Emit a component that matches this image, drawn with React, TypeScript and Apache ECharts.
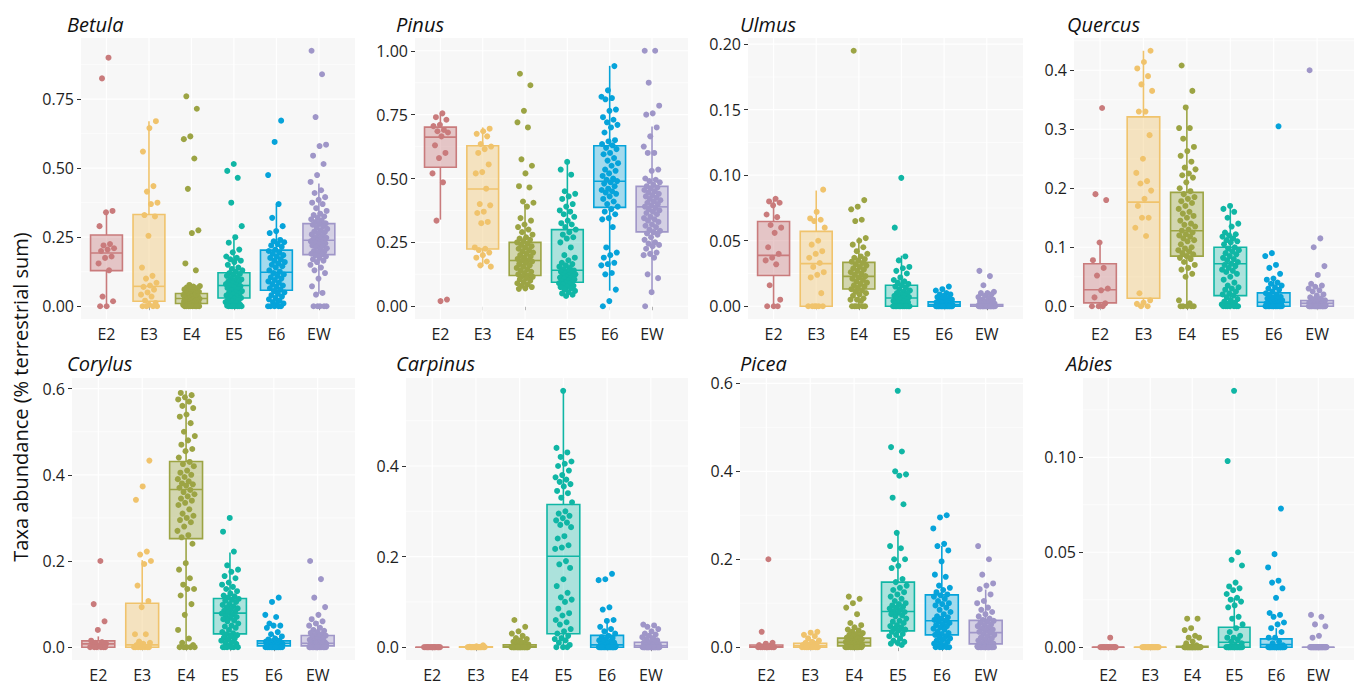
import React, { useEffect, useRef } from 'react';
import * as echarts from 'echarts';

const FONT = '"Open Sans", "Noto Sans", sans-serif';
const CATEGORIES = ['E2', 'E3', 'E4', 'E5', 'E6', 'EW'];
const COLORS = ['#C97B7C', '#F0C36C', '#9CA444', '#10B6A5', '#06A3DA', '#9F96C8'];
const FILLS = ['rgba(201,123,124,0.4)', 'rgba(240,195,108,0.4)', 'rgba(156,164,68,0.4)', 'rgba(16,182,165,0.32)', 'rgba(6,163,218,0.35)', 'rgba(159,150,200,0.4)'];
const Y_TITLE = 'Taxa abundance (% terrestrial sum)';

// ---- Betula ----
const betulaTicks = [0, 0.25, 0.5, 0.75];
const betulaBox = [
  [0, 0.129, 0.193, 0.258, 0.347],
  [0, 0.018, 0.072, 0.332, 0.67],
  [0, 0.01, 0.028, 0.046, 0.078],
  [0, 0.03, 0.075, 0.121, 0.25],
  [0, 0.058, 0.123, 0.203, 0.371],
  [0.045, 0.187, 0.239, 0.299, 0.444],
];
const betulaPts = [
  [0.9, 0.825, 0.345, 0.34, 0.29, 0.225, 0.22, 0.21, 0.205, 0.2, 0.18, 0.175, 0.155, 0.13, 0.035, 0.018, 0, 0],
  [0.67, 0.645, 0.56, 0.435, 0.415, 0.375, 0.37, 0.33, 0.325, 0.255, 0.14, 0.11, 0.1, 0.085, 0.075, 0.07, 0.06, 0.05, 0.042, 0.035, 0.02, 0.012, 0.006, 0, 0, 0, 0],
  [0.76, 0.715, 0.615, 0.605, 0.535, 0.425, 0.275, 0.265, 0.155, 0.13, 0.077, 0.073, 0.071, 0.068, 0.066, 0.064, 0.061, 0.058, 0.055, 0.052, 0.05, 0.048, 0.046, 0.044, 0.041, 0.039, 0.037, 0.035, 0.034, 0.032, 0.03, 0.028, 0.027, 0.025, 0.023, 0.021, 0.02, 0.018, 0.016, 0.014, 0.013, 0.011, 0.01, 0.008, 0.007, 0.005, 0.004, 0.003, 0.002, 0.001, 0, 0, 0, 0, 0, 0, 0, 0],
  [0.515, 0.49, 0.465, 0.375, 0.29, 0.25, 0.23, 0.205, 0.195, 0.18, 0.175, 0.17, 0.165, 0.16, 0.15, 0.14, 0.135, 0.13, 0.125, 0.12, 0.117, 0.113, 0.11, 0.105, 0.1, 0.097, 0.094, 0.09, 0.087, 0.084, 0.08, 0.077, 0.075, 0.072, 0.069, 0.066, 0.062, 0.058, 0.055, 0.051, 0.048, 0.045, 0.042, 0.039, 0.036, 0.033, 0.03, 0.027, 0.024, 0.021, 0.018, 0.015, 0.012, 0.009, 0.006, 0.004, 0.002, 0, 0, 0, 0, 0, 0, 0],
  [0.672, 0.595, 0.475, 0.37, 0.32, 0.29, 0.272, 0.265, 0.24, 0.235, 0.232, 0.225, 0.22, 0.215, 0.205, 0.2, 0.195, 0.19, 0.185, 0.18, 0.175, 0.17, 0.165, 0.16, 0.155, 0.15, 0.145, 0.14, 0.13, 0.125, 0.12, 0.115, 0.11, 0.105, 0.1, 0.095, 0.09, 0.085, 0.08, 0.075, 0.07, 0.065, 0.06, 0.055, 0.05, 0.045, 0.04, 0.035, 0.03, 0.025, 0.02, 0.015, 0.01, 0.005, 0, 0, 0, 0, 0],
  [0.925, 0.84, 0.685, 0.585, 0.58, 0.545, 0.515, 0.475, 0.45, 0.42, 0.41, 0.395, 0.385, 0.375, 0.37, 0.355, 0.345, 0.335, 0.33, 0.325, 0.32, 0.315, 0.31, 0.305, 0.3, 0.298, 0.295, 0.29, 0.285, 0.28, 0.275, 0.27, 0.268, 0.265, 0.26, 0.255, 0.25, 0.248, 0.245, 0.242, 0.24, 0.238, 0.235, 0.232, 0.23, 0.228, 0.225, 0.22, 0.218, 0.215, 0.21, 0.205, 0.2, 0.198, 0.195, 0.19, 0.188, 0.185, 0.18, 0.175, 0.17, 0.165, 0.16, 0.15, 0.14, 0.13, 0.12, 0.1, 0.072, 0.048, 0.042, 0, 0, 0, 0, 0],
];

// ---- Pinus ----
const pinusTicks = [0, 0.25, 0.5, 0.75, 1.0];
const pinusBox = [
  [0.339, 0.544, 0.662, 0.701, 0.756],
  [0.156, 0.224, 0.459, 0.628, 0.7],
  [0.068, 0.12, 0.179, 0.25, 0.4],
  [0.04, 0.094, 0.141, 0.3, 0.561],
  [0.061, 0.387, 0.489, 0.628, 0.941],
  [0.055, 0.291, 0.389, 0.469, 0.704],
];
const pinusPts = [
  [0.755, 0.74, 0.73, 0.71, 0.705, 0.69, 0.685, 0.68, 0.665, 0.63, 0.6, 0.58, 0.52, 0.485, 0.335, 0.026, 0.02],
  [0.695, 0.685, 0.675, 0.665, 0.635, 0.625, 0.615, 0.6, 0.555, 0.525, 0.52, 0.46, 0.4, 0.395, 0.37, 0.365, 0.33, 0.325, 0.23, 0.225, 0.22, 0.21, 0.2, 0.19, 0.175, 0.16, 0.155],
  [0.91, 0.865, 0.765, 0.72, 0.7, 0.575, 0.55, 0.52, 0.47, 0.465, 0.41, 0.405, 0.39, 0.345, 0.335, 0.32, 0.31, 0.3, 0.29, 0.28, 0.27, 0.265, 0.26, 0.255, 0.25, 0.245, 0.24, 0.235, 0.23, 0.225, 0.22, 0.215, 0.21, 0.205, 0.2, 0.195, 0.19, 0.185, 0.18, 0.178, 0.175, 0.17, 0.165, 0.16, 0.155, 0.15, 0.145, 0.14, 0.135, 0.13, 0.125, 0.12, 0.118, 0.115, 0.11, 0.105, 0.1, 0.095, 0.09, 0.085, 0.08, 0.075, 0.07, 0.068],
  [0.565, 0.535, 0.515, 0.45, 0.44, 0.43, 0.42, 0.4, 0.39, 0.375, 0.37, 0.36, 0.35, 0.335, 0.325, 0.32, 0.31, 0.3, 0.29, 0.28, 0.27, 0.265, 0.25, 0.23, 0.2, 0.19, 0.18, 0.17, 0.165, 0.16, 0.155, 0.15, 0.145, 0.14, 0.138, 0.135, 0.13, 0.128, 0.125, 0.122, 0.12, 0.118, 0.115, 0.112, 0.11, 0.108, 0.105, 0.1, 0.098, 0.095, 0.092, 0.09, 0.088, 0.085, 0.08, 0.078, 0.075, 0.07, 0.065, 0.06, 0.055, 0.05, 0.045, 0.04],
  [0.94, 0.845, 0.82, 0.815, 0.81, 0.77, 0.765, 0.74, 0.73, 0.72, 0.71, 0.7, 0.68, 0.65, 0.645, 0.635, 0.63, 0.62, 0.615, 0.6, 0.595, 0.58, 0.57, 0.56, 0.55, 0.535, 0.53, 0.52, 0.51, 0.5, 0.495, 0.49, 0.485, 0.48, 0.47, 0.46, 0.455, 0.45, 0.445, 0.44, 0.43, 0.42, 0.41, 0.4, 0.39, 0.38, 0.37, 0.36, 0.345, 0.34, 0.31, 0.23, 0.21, 0.2, 0.19, 0.17, 0.165, 0.16, 0.13, 0.125, 0.065, 0.02, 0],
  [1.0, 1.0, 0.875, 0.785, 0.755, 0.75, 0.7, 0.665, 0.625, 0.6, 0.6, 0.535, 0.53, 0.5, 0.495, 0.49, 0.485, 0.475, 0.47, 0.465, 0.46, 0.455, 0.45, 0.445, 0.44, 0.435, 0.43, 0.425, 0.42, 0.415, 0.41, 0.405, 0.4, 0.395, 0.39, 0.385, 0.38, 0.375, 0.37, 0.365, 0.36, 0.35, 0.345, 0.34, 0.335, 0.33, 0.32, 0.315, 0.31, 0.3, 0.295, 0.29, 0.285, 0.28, 0.27, 0.26, 0.25, 0.245, 0.24, 0.235, 0.225, 0.21, 0.205, 0.2, 0.19, 0.125, 0.11, 0.055, 0],
];

// ---- Ulmus ----
const ulmusTicks = [0, 0.05, 0.1, 0.15, 0.2];
const ulmusBox = [
  [0, 0.0234, 0.0388, 0.0647, 0.0817],
  [0, 0, 0.0325, 0.0571, 0.0883],
  [0, 0.0132, 0.0228, 0.0335, 0.0525],
  [0, 0, 0.0063, 0.016, 0.0386],
  [0, 0, 0.001, 0.0033, 0.008],
  [0, 0, 0, 0.0013, 0.003],
];
const ulmusPts = [
  [0.082, 0.08, 0.079, 0.077, 0.07, 0.068, 0.062, 0.06, 0.056, 0.045, 0.04, 0.037, 0.035, 0.032, 0.016, 0.005, 0, 0, 0],
  [0.089, 0.072, 0.067, 0.066, 0.065, 0.06, 0.05, 0.047, 0.042, 0.04, 0.037, 0.033, 0.03, 0.026, 0.024, 0.022, 0.01, 0, 0, 0, 0, 0, 0],
  [0.195, 0.081, 0.076, 0.074, 0.066, 0.065, 0.052, 0.05, 0.047, 0.045, 0.042, 0.04, 0.038, 0.037, 0.036, 0.035, 0.034, 0.033, 0.032, 0.031, 0.03, 0.029, 0.028, 0.027, 0.026, 0.025, 0.024, 0.023, 0.022, 0.021, 0.02, 0.019, 0.018, 0.017, 0.016, 0.015, 0.014, 0.013, 0.012, 0.011, 0.01, 0.009, 0.008, 0.006, 0.005, 0.005, 0.004, 0, 0, 0, 0, 0, 0],
  [0.098, 0.06, 0.038, 0.035, 0.03, 0.029, 0.027, 0.025, 0.022, 0.02, 0.019, 0.018, 0.017, 0.016, 0.015, 0.014, 0.013, 0.012, 0.011, 0.01, 0.01, 0.009, 0.008, 0.008, 0.007, 0.007, 0.006, 0.006, 0.005, 0.005, 0.004, 0.004, 0.003, 0.003, 0.002, 0.002, 0.001, 0.001, 0, 0, 0, 0, 0, 0, 0, 0, 0, 0, 0, 0, 0, 0],
  [0.015, 0.013, 0.012, 0.01, 0.009, 0.009, 0.008, 0.007, 0.006, 0.005, 0.005, 0.004, 0.004, 0.004, 0.003, 0.003, 0.003, 0.003, 0.002, 0.002, 0.002, 0.002, 0.002, 0.001, 0.001, 0.001, 0.001, 0.001, 0.001, 0, 0, 0, 0, 0, 0, 0, 0, 0, 0, 0, 0, 0, 0, 0, 0, 0, 0, 0, 0, 0],
  [0.027, 0.023, 0.016, 0.011, 0.01, 0.01, 0.009, 0.008, 0.007, 0.006, 0.005, 0.005, 0.004, 0.004, 0.003, 0.003, 0.002, 0.002, 0.002, 0.001, 0.001, 0.001, 0.001, 0, 0, 0, 0, 0, 0, 0, 0, 0, 0, 0, 0, 0, 0, 0, 0, 0, 0, 0, 0, 0, 0, 0, 0, 0, 0],
];

// ---- Quercus ----
const quercusTicks = [0, 0.1, 0.2, 0.3, 0.4];
const quercusBox = [
  [0, 0.0057, 0.028, 0.072, 0.107],
  [0, 0.0136, 0.1765, 0.321, 0.433],
  [0, 0.085, 0.128, 0.193, 0.337],
  [0, 0.018, 0.072, 0.1, 0.173],
  [0, 0, 0.0068, 0.0226, 0.046],
  [0, 0, 0.005, 0.0096, 0.021],
];
const quercusPts = [
  [0.336, 0.19, 0.18, 0.108, 0.078, 0.065, 0.052, 0.03, 0.027, 0.015, 0.005, 0, 0, 0],
  [0.433, 0.414, 0.403, 0.39, 0.376, 0.365, 0.33, 0.33, 0.29, 0.25, 0.226, 0.212, 0.208, 0.196, 0.182, 0.17, 0.15, 0.15, 0.133, 0.119, 0.022, 0.01, 0.006, 0.004, 0, 0],
  [0.408, 0.365, 0.337, 0.302, 0.302, 0.284, 0.27, 0.263, 0.255, 0.245, 0.235, 0.232, 0.225, 0.222, 0.218, 0.21, 0.2, 0.195, 0.19, 0.185, 0.182, 0.178, 0.175, 0.17, 0.165, 0.16, 0.157, 0.153, 0.15, 0.145, 0.14, 0.138, 0.135, 0.13, 0.128, 0.125, 0.122, 0.12, 0.118, 0.115, 0.112, 0.11, 0.105, 0.1, 0.098, 0.095, 0.093, 0.09, 0.088, 0.085, 0.082, 0.08, 0.075, 0.07, 0.065, 0.062, 0.055, 0.05, 0.01, 0.005, 0, 0, 0, 0, 0],
  [0.17, 0.165, 0.16, 0.15, 0.14, 0.135, 0.125, 0.122, 0.12, 0.118, 0.115, 0.112, 0.11, 0.108, 0.105, 0.1, 0.098, 0.095, 0.093, 0.09, 0.088, 0.085, 0.082, 0.08, 0.078, 0.075, 0.072, 0.07, 0.068, 0.065, 0.062, 0.06, 0.058, 0.055, 0.05, 0.045, 0.04, 0.035, 0.032, 0.03, 0.028, 0.025, 0.022, 0.02, 0.018, 0.015, 0.012, 0.01, 0.008, 0.006, 0.005, 0.003, 0.002, 0, 0, 0, 0, 0, 0, 0],
  [0.305, 0.09, 0.085, 0.07, 0.065, 0.055, 0.047, 0.045, 0.04, 0.038, 0.035, 0.032, 0.03, 0.028, 0.025, 0.022, 0.02, 0.018, 0.016, 0.015, 0.013, 0.012, 0.01, 0.01, 0.008, 0.008, 0.007, 0.006, 0.005, 0.005, 0.004, 0.003, 0.003, 0.002, 0.002, 0.001, 0, 0, 0, 0, 0, 0, 0, 0, 0, 0, 0, 0, 0, 0],
  [0.4, 0.115, 0.1, 0.068, 0.053, 0.038, 0.035, 0.033, 0.03, 0.027, 0.025, 0.02, 0.018, 0.015, 0.013, 0.012, 0.01, 0.01, 0.009, 0.008, 0.007, 0.006, 0.005, 0.005, 0.005, 0.004, 0.003, 0.003, 0.002, 0.002, 0.001, 0.001, 0, 0, 0, 0, 0, 0, 0, 0, 0, 0, 0, 0, 0, 0, 0, 0, 0, 0, 0, 0, 0, 0, 0, 0],
];

// ---- Corylus ----
const corylusTicks = [0, 0.2, 0.4, 0.6];
const corylusBox = [
  [0, 0, 0.0077, 0.0146, 0.025],
  [0, 0, 0.0054, 0.102, 0.202],
  [0, 0.252, 0.366, 0.431, 0.595],
  [0, 0.031, 0.079, 0.113, 0.22],
  [0, 0.003, 0.009, 0.0146, 0.028],
  [0, 0.003, 0.009, 0.027, 0.06],
];
const corylusPts = [
  [0.2, 0.1, 0.06, 0.04, 0.015, 0.012, 0.01, 0.008, 0.005, 0.003, 0, 0, 0, 0, 0, 0],
  [0.433, 0.373, 0.342, 0.222, 0.215, 0.2, 0.193, 0.143, 0.107, 0.093, 0.03, 0.03, 0.013, 0.01, 0.008, 0.005, 0, 0, 0, 0, 0, 0, 0, 0],
  [0.59, 0.585, 0.58, 0.575, 0.57, 0.56, 0.555, 0.54, 0.535, 0.52, 0.5, 0.49, 0.48, 0.47, 0.46, 0.455, 0.44, 0.43, 0.425, 0.42, 0.41, 0.405, 0.4, 0.395, 0.39, 0.385, 0.38, 0.378, 0.375, 0.37, 0.365, 0.36, 0.355, 0.35, 0.345, 0.34, 0.335, 0.33, 0.32, 0.31, 0.305, 0.3, 0.295, 0.29, 0.28, 0.27, 0.26, 0.255, 0.24, 0.195, 0.18, 0.16, 0.145, 0.135, 0.135, 0.12, 0.1, 0.075, 0.04, 0.02, 0.01, 0.005, 0, 0, 0, 0, 0],
  [0.3, 0.268, 0.222, 0.19, 0.18, 0.175, 0.165, 0.16, 0.15, 0.145, 0.14, 0.135, 0.13, 0.125, 0.12, 0.118, 0.115, 0.112, 0.11, 0.108, 0.105, 0.1, 0.098, 0.095, 0.092, 0.09, 0.088, 0.085, 0.082, 0.08, 0.078, 0.075, 0.072, 0.07, 0.068, 0.065, 0.062, 0.06, 0.055, 0.05, 0.048, 0.045, 0.04, 0.035, 0.032, 0.03, 0.028, 0.025, 0.022, 0.02, 0.018, 0.015, 0.012, 0.01, 0.008, 0.005, 0, 0, 0, 0, 0, 0],
  [0.115, 0.105, 0.075, 0.07, 0.055, 0.05, 0.05, 0.045, 0.035, 0.03, 0.025, 0.02, 0.018, 0.015, 0.014, 0.013, 0.012, 0.012, 0.011, 0.01, 0.01, 0.009, 0.009, 0.008, 0.008, 0.007, 0.006, 0.005, 0.005, 0.004, 0.003, 0.002, 0.001, 0, 0, 0, 0, 0, 0, 0, 0, 0, 0, 0, 0, 0],
  [0.2, 0.158, 0.115, 0.093, 0.075, 0.065, 0.06, 0.055, 0.05, 0.045, 0.04, 0.038, 0.035, 0.033, 0.03, 0.028, 0.027, 0.025, 0.022, 0.02, 0.018, 0.017, 0.015, 0.013, 0.012, 0.011, 0.01, 0.01, 0.009, 0.008, 0.008, 0.007, 0.006, 0.005, 0.005, 0.004, 0.003, 0.003, 0.002, 0.002, 0.001, 0, 0, 0, 0, 0, 0, 0, 0, 0, 0, 0, 0, 0, 0, 0],
];

// ---- Carpinus ----
const carpinusTicks = [0, 0.2, 0.4];
const carpinusBox = [
  [0, 0, 0, 0, 0],
  [0, 0, 0, 0.001, 0.002],
  [0, 0, 0.001, 0.005, 0.012],
  [0, 0.0295, 0.2007, 0.315, 0.566],
  [0, 0, 0.005, 0.026, 0.062],
  [0, 0, 0.003, 0.011, 0.028],
];
const carpinusPts = [
  [0, 0, 0, 0, 0, 0, 0, 0, 0, 0, 0, 0, 0, 0, 0, 0, 0],
  [0.004, 0.002, 0.001, 0, 0, 0, 0, 0, 0, 0, 0, 0, 0, 0, 0, 0, 0, 0, 0, 0, 0],
  [0.06, 0.045, 0.035, 0.03, 0.025, 0.02, 0.018, 0.015, 0.012, 0.01, 0.008, 0.006, 0.005, 0.004, 0.003, 0.002, 0.002, 0.001, 0.001, 0, 0, 0, 0, 0, 0, 0, 0, 0, 0, 0, 0, 0, 0, 0, 0, 0, 0, 0, 0, 0, 0, 0, 0, 0, 0],
  [0.566, 0.44, 0.43, 0.42, 0.41, 0.405, 0.4, 0.39, 0.38, 0.375, 0.37, 0.365, 0.36, 0.355, 0.345, 0.34, 0.33, 0.32, 0.3, 0.295, 0.29, 0.285, 0.28, 0.275, 0.27, 0.265, 0.245, 0.24, 0.225, 0.22, 0.217, 0.19, 0.183, 0.175, 0.15, 0.135, 0.12, 0.11, 0.105, 0.1, 0.085, 0.075, 0.07, 0.06, 0.055, 0.05, 0.04, 0.035, 0.03, 0.025, 0.02, 0.018, 0.015, 0.01, 0.005, 0, 0, 0],
  [0.162, 0.15, 0.148, 0.088, 0.083, 0.06, 0.058, 0.045, 0.04, 0.035, 0.03, 0.025, 0.022, 0.02, 0.018, 0.015, 0.012, 0.01, 0.01, 0.008, 0.006, 0.005, 0.004, 0.003, 0.002, 0.001, 0, 0, 0, 0, 0, 0, 0, 0, 0, 0, 0, 0, 0, 0, 0, 0, 0, 0, 0, 0, 0, 0],
  [0.05, 0.048, 0.045, 0.04, 0.035, 0.03, 0.028, 0.025, 0.022, 0.02, 0.018, 0.015, 0.012, 0.01, 0.01, 0.008, 0.006, 0.005, 0.004, 0.003, 0.002, 0.001, 0, 0, 0, 0, 0, 0, 0, 0, 0, 0, 0, 0, 0, 0, 0, 0, 0, 0, 0, 0, 0, 0, 0, 0, 0, 0, 0, 0, 0],
];

// ---- Picea ----
const piceaTicks = [0, 0.2, 0.4, 0.6];
const piceaBox = [
  [0, 0, 0.001, 0.005, 0.012],
  [0, 0, 0.003, 0.009, 0.022],
  [0, 0.003, 0.011, 0.0205, 0.045],
  [0.002, 0.037, 0.081, 0.148, 0.259],
  [0, 0.028, 0.06, 0.119, 0.23],
  [0, 0.0076, 0.033, 0.061, 0.131],
];
const piceaPts = [
  [0.2, 0.035, 0.01, 0.008, 0.005, 0.003, 0.002, 0, 0, 0, 0, 0, 0, 0, 0, 0, 0],
  [0.035, 0.033, 0.028, 0.025, 0.02, 0.015, 0.012, 0.01, 0.008, 0.006, 0.005, 0.003, 0, 0, 0, 0, 0, 0, 0, 0, 0, 0],
  [0.115, 0.11, 0.1, 0.09, 0.075, 0.055, 0.05, 0.045, 0.04, 0.038, 0.035, 0.032, 0.03, 0.028, 0.026, 0.024, 0.022, 0.02, 0.019, 0.018, 0.016, 0.015, 0.014, 0.013, 0.012, 0.011, 0.01, 0.009, 0.008, 0.007, 0.006, 0.005, 0.004, 0.003, 0.002, 0.001, 0, 0, 0, 0, 0, 0, 0, 0, 0, 0, 0],
  [0.583, 0.455, 0.445, 0.4, 0.393, 0.39, 0.34, 0.325, 0.26, 0.23, 0.225, 0.2, 0.2, 0.185, 0.18, 0.155, 0.148, 0.14, 0.135, 0.13, 0.125, 0.12, 0.115, 0.11, 0.105, 0.1, 0.098, 0.095, 0.092, 0.09, 0.088, 0.085, 0.082, 0.08, 0.078, 0.075, 0.072, 0.07, 0.065, 0.06, 0.058, 0.055, 0.05, 0.048, 0.045, 0.042, 0.04, 0.038, 0.035, 0.03, 0.028, 0.025, 0.02, 0.015, 0.012, 0.01, 0.008, 0.005],
  [0.3, 0.295, 0.27, 0.235, 0.23, 0.22, 0.195, 0.165, 0.16, 0.14, 0.135, 0.13, 0.125, 0.12, 0.118, 0.115, 0.11, 0.105, 0.1, 0.098, 0.095, 0.09, 0.085, 0.08, 0.075, 0.07, 0.068, 0.065, 0.062, 0.06, 0.058, 0.055, 0.052, 0.05, 0.048, 0.045, 0.042, 0.04, 0.035, 0.032, 0.03, 0.028, 0.025, 0.022, 0.02, 0.018, 0.015, 0.012, 0.01, 0.008, 0.005, 0.003, 0, 0, 0, 0, 0],
  [0.23, 0.2, 0.165, 0.145, 0.14, 0.132, 0.12, 0.105, 0.1, 0.09, 0.085, 0.08, 0.075, 0.07, 0.065, 0.062, 0.06, 0.058, 0.055, 0.052, 0.05, 0.048, 0.045, 0.042, 0.04, 0.038, 0.035, 0.033, 0.03, 0.028, 0.025, 0.022, 0.02, 0.018, 0.015, 0.012, 0.01, 0.008, 0.007, 0.005, 0.004, 0.003, 0.002, 0, 0, 0, 0, 0, 0, 0, 0, 0, 0, 0, 0, 0, 0],
];

// ---- Abies ----
const abiesTicks = [0, 0.05, 0.1];
const abiesBox = [
  [0, 0, 0, 0, 0],
  [0, 0, 0, 0, 0],
  [0, 0, 0, 0.0005, 0.001],
  [0, 0, 0.0026, 0.0105, 0.026],
  [0, 0, 0.0014, 0.0044, 0.01],
  [0, 0, 0, 0, 0],
];
const abiesPts = [
  [0.005, 0, 0, 0, 0, 0, 0, 0, 0, 0, 0, 0, 0, 0, 0, 0, 0],
  [0, 0, 0, 0, 0, 0, 0, 0, 0, 0, 0, 0, 0, 0, 0, 0, 0, 0, 0, 0],
  [0.015, 0.015, 0.01, 0.009, 0.006, 0.005, 0.005, 0.003, 0.002, 0.001, 0, 0, 0, 0, 0, 0, 0, 0, 0, 0, 0, 0, 0, 0, 0, 0, 0, 0, 0, 0, 0, 0, 0, 0, 0, 0, 0, 0, 0, 0],
  [0.135, 0.098, 0.05, 0.046, 0.043, 0.034, 0.032, 0.031, 0.03, 0.028, 0.026, 0.025, 0.024, 0.022, 0.021, 0.016, 0.015, 0.012, 0.01, 0.008, 0.006, 0.005, 0.005, 0.004, 0.003, 0.002, 0.001, 0, 0, 0, 0, 0, 0, 0, 0, 0, 0, 0, 0, 0, 0, 0, 0, 0, 0, 0, 0, 0, 0],
  [0.073, 0.049, 0.042, 0.035, 0.034, 0.031, 0.026, 0.018, 0.017, 0.016, 0.013, 0.012, 0.01, 0.008, 0.005, 0.005, 0.003, 0.002, 0.001, 0, 0, 0, 0, 0, 0, 0, 0, 0, 0, 0, 0, 0, 0, 0, 0, 0, 0, 0, 0, 0, 0, 0, 0],
  [0.017, 0.016, 0.012, 0.011, 0.006, 0.005, 0, 0, 0, 0, 0, 0, 0, 0, 0, 0, 0, 0, 0, 0, 0, 0, 0, 0, 0, 0, 0, 0, 0, 0, 0, 0, 0, 0, 0, 0, 0, 0, 0, 0],
];

const PANELS = [
  { name: 'Betula', ticks: betulaTicks, dec: 2, box: betulaBox, pts: betulaPts },
  { name: 'Pinus', ticks: pinusTicks, dec: 2, box: pinusBox, pts: pinusPts },
  { name: 'Ulmus', ticks: ulmusTicks, dec: 2, box: ulmusBox, pts: ulmusPts },
  { name: 'Quercus', ticks: quercusTicks, dec: 1, box: quercusBox, pts: quercusPts },
  { name: 'Corylus', ticks: corylusTicks, dec: 1, box: corylusBox, pts: corylusPts },
  { name: 'Carpinus', ticks: carpinusTicks, dec: 1, box: carpinusBox, pts: carpinusPts },
  { name: 'Picea', ticks: piceaTicks, dec: 1, box: piceaBox, pts: piceaPts },
  { name: 'Abies', ticks: abiesTicks, dec: 2, box: abiesBox, pts: abiesPts },
];

// layout (pixels)
const LAYOUT = [
  { left: 81, top: 38, width: 274, height: 281, tx: 67, ty: 24 },
  { left: 415, top: 38, width: 273, height: 281, tx: 396, ty: 24 },
  { left: 748, top: 38, width: 275, height: 281, tx: 740, ty: 24 },
  { left: 1074, top: 38, width: 280, height: 281, tx: 1067, ty: 24 },
  { left: 72, top: 378, width: 283, height: 282, tx: 67, ty: 363 },
  { left: 406, top: 378, width: 282, height: 282, tx: 396, ty: 363 },
  { left: 740, top: 378, width: 283, height: 282, tx: 740, ty: 363 },
  { left: 1083, top: 378, width: 271, height: 282, tx: 1066, ty: 363 },
];

const X_MIN = 0.4;
const X_MAX = 6.85;
const BOX_W = 0.75;
const JITTER = 0.2;

function jitterOffset(i: number, g: number): number {
  const f = ((i + 1) * 0.6180339887 + g * 0.29) % 1;
  return (f - 0.5) * 2 * JITTER;
}

function buildOption(): any {
  const option: any = {
    animation: false,
    textStyle: { fontFamily: FONT },
    grid: [],
    xAxis: [],
    yAxis: [],
    series: [],
    graphic: [],
  };
  const catVals = CATEGORIES.map((_, i) => i + 1);

  PANELS.forEach((p, k) => {
    const L = LAYOUT[k];
    const all: number[] = [];
    p.pts.forEach((arr) => arr.forEach((v) => all.push(v)));
    p.box.forEach((arr) => arr.forEach((v) => all.push(v)));
    const lo = Math.min(...all);
    const hi = Math.max(...all);
    const r = hi - lo || 1;
    const ymin = lo - 0.05 * r;
    const ymax = hi + 0.05 * r;
    const step = p.ticks[1] - p.ticks[0];
    const minors: number[] = [p.ticks[0] - step / 2].concat(p.ticks.map((t) => t + step / 2)).filter((v) => v > ymin && v < ymax);

    option.grid.push({
      left: L.left, top: L.top, width: L.width, height: L.height,
      show: true, backgroundColor: '#F7F7F7', borderWidth: 0,
    });
    option.xAxis.push({
      type: 'value', gridIndex: k, min: X_MIN, max: X_MAX,
      axisLine: { show: false },
      splitLine: { show: false },
      axisTick: { show: true, customValues: catVals, length: 4, lineStyle: { color: '#333', width: 1 } },
      axisLabel: {
        show: true, customValues: catVals, margin: 7, fontSize: 16, color: '#1E1E1E', fontFamily: FONT,
        formatter: (v: number) => CATEGORIES[Math.round(v) - 1] || '',
      },
    });
    option.yAxis.push({
      type: 'value', gridIndex: k, min: ymin, max: ymax,
      axisLine: { show: false },
      splitLine: { show: false },
      axisTick: { show: true, customValues: p.ticks, length: 4, lineStyle: { color: '#333', width: 1 } },
      axisLabel: {
        show: true, customValues: p.ticks, margin: 7, fontSize: 16, color: '#1E1E1E', fontFamily: FONT,
        formatter: (v: number) => v.toFixed(p.dec),
      },
    });

    // gridlines
    const hData = p.ticks.map((t) => [1, t, 1.2]).concat(minors.map((t) => [1, t, 0.6]));
    option.series.push({
      type: 'custom', xAxisIndex: k, yAxisIndex: k, silent: true, z: 1,
      data: hData,
      renderItem: (params: any, api: any) => {
        const cs = params.coordSys;
        const y = api.coord([1, api.value(1)])[1];
        return {
          type: 'line',
          shape: { x1: cs.x, y1: y, x2: cs.x + cs.width, y2: y },
          style: { stroke: '#FFFFFF', lineWidth: api.value(2) },
        };
      },
    });
    option.series.push({
      type: 'custom', xAxisIndex: k, yAxisIndex: k, silent: true, z: 1,
      data: catVals.map((c) => [c, 0]),
      renderItem: (params: any, api: any) => {
        const cs = params.coordSys;
        const x = api.coord([api.value(0), 0])[0];
        return {
          type: 'line',
          shape: { x1: x, y1: cs.y, x2: x, y2: cs.y + cs.height },
          style: { stroke: '#FFFFFF', lineWidth: 1.2 },
        };
      },
    });

    // boxes
    option.series.push({
      type: 'custom', xAxisIndex: k, yAxisIndex: k, silent: true, z: 2,
      encode: { x: 0, y: [1, 2, 3, 4, 5] },
      data: p.box.map((b, g) => [g + 1, b[0], b[1], b[2], b[3], b[4]]),
      renderItem: (params: any, api: any) => {
        const g = params.dataIndex;
        const x = api.value(0);
        const cx = api.coord([x, 0])[0];
        const w = api.size([BOX_W, 0])[0];
        const yLo = api.coord([x, api.value(1)])[1];
        const yQ1 = api.coord([x, api.value(2)])[1];
        const yMed = api.coord([x, api.value(3)])[1];
        const yQ3 = api.coord([x, api.value(4)])[1];
        const yHi = api.coord([x, api.value(5)])[1];
        const col = COLORS[g];
        return {
          type: 'group',
          children: [
            { type: 'line', shape: { x1: cx, y1: yHi, x2: cx, y2: yQ3 }, style: { stroke: col, lineWidth: 1.6 } },
            { type: 'line', shape: { x1: cx, y1: yQ1, x2: cx, y2: yLo }, style: { stroke: col, lineWidth: 1.6 } },
            { type: 'rect', shape: { x: cx - w / 2, y: yQ3, width: w, height: Math.max(yQ1 - yQ3, 0.01) }, style: { fill: FILLS[g], stroke: col, lineWidth: 1.6 } },
            { type: 'line', shape: { x1: cx - w / 2, y1: yMed, x2: cx + w / 2, y2: yMed }, style: { stroke: col, lineWidth: 1.6 } },
          ],
        };
      },
    });

    // jittered points
    p.pts.forEach((vals, g) => {
      option.series.push({
        type: 'scatter', xAxisIndex: k, yAxisIndex: k, silent: true, z: 3,
        symbol: 'circle', symbolSize: 6,
        itemStyle: { color: COLORS[g], opacity: 1 },
        data: vals.map((v, i) => [g + 1 + jitterOffset(i, g), v]),
      });
    });

    option.graphic.push({
      type: 'text', x: L.tx, y: L.ty, silent: true,
      style: { text: p.name, font: `italic 20px ${FONT}`, fill: '#111111', align: 'left', verticalAlign: 'middle' },
    });
  });

  option.graphic.push({
    type: 'text', x: 20, y: 397, rotation: Math.PI / 2, silent: true,
    style: { text: Y_TITLE, font: `20px ${FONT}`, fill: '#111111', align: 'center', verticalAlign: 'middle' },
  });

  return option;
}

export default function App() {
  const ref = useRef<HTMLDivElement>(null);
  useEffect(() => {
    if (!ref.current) return;
    const chart = echarts.init(ref.current, undefined, { renderer: 'svg' });
    chart.setOption(buildOption());
    return () => chart.dispose();
  }, []);
  return (
    <div
      ref={ref}
      style={{ position: 'absolute', left: 0, top: 0, width: 1355, height: 686, background: '#FFFFFF' }}
    />
  );
}
